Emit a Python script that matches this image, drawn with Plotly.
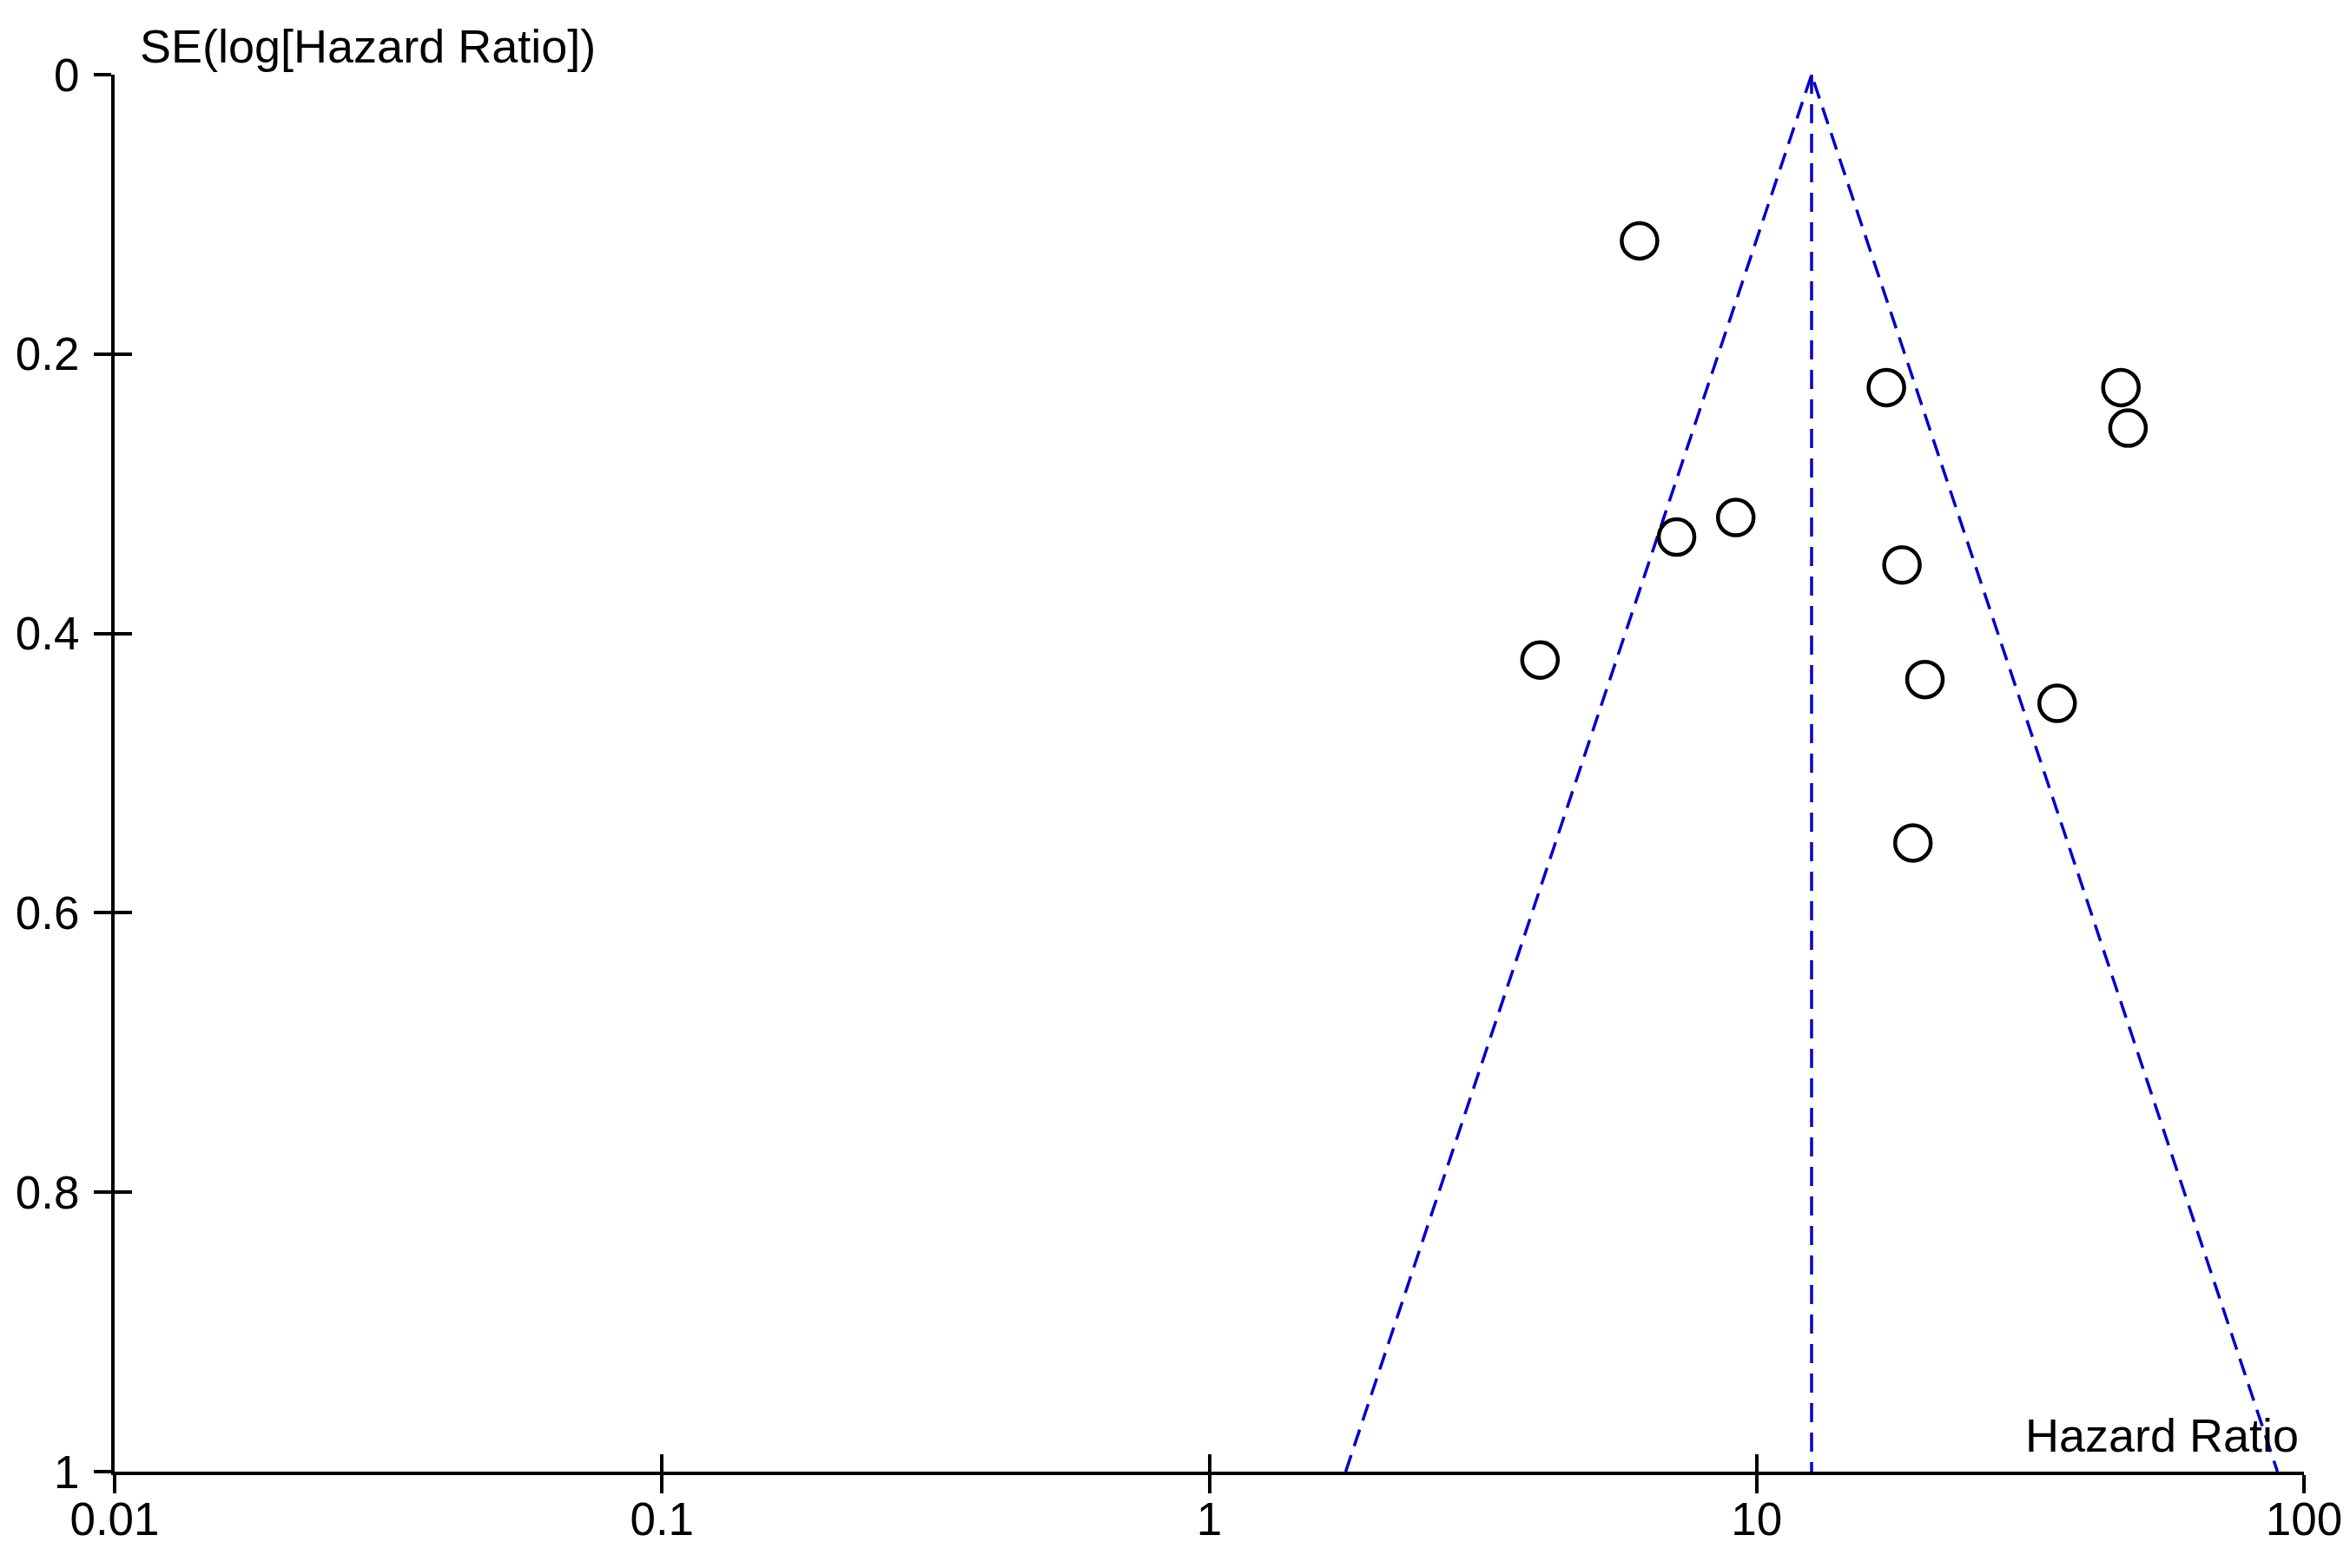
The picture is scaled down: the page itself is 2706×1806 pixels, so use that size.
import numpy as np
import plotly.graph_objects as go

# ---- data ----
hazard_ratio = [6.11, 17.26, 46.3, 47.7, 9.16, 7.14, 18.43, 4.02, 20.3, 35.4, 19.3]
se_log_hr = [0.119, 0.224, 0.224, 0.253, 0.317, 0.331, 0.351, 0.419, 0.433, 0.450, 0.550]
pooled_hr = 12.6
z_value = 1.96
se_max = 1.0

x_tickvals = [0.01, 0.1, 1, 10, 100]
x_ticktext = ["0.01", "0.1", "1", "10", "100"]
y_tickvals = [0, 0.2, 0.4, 0.6, 0.8, 1]
y_ticktext = ["0", "0.2", "0.4", "0.6", "0.8", "1"]

FONT = "Liberation Sans, Arial, sans-serif"
BLUE = "#0000CC"

funnel_x = [pooled_hr * np.exp(-z_value * se_max), pooled_hr, pooled_hr * np.exp(z_value * se_max)]
funnel_y = [se_max, 0, se_max]

fig = go.Figure()
fig.add_trace(go.Scatter(x=funnel_x, y=funnel_y, mode="lines",
                         line=dict(color=BLUE, width=3.5, dash="20px,11px"),
                         hoverinfo="skip", showlegend=False, cliponaxis=False))
fig.add_trace(go.Scatter(x=[pooled_hr, pooled_hr], y=[0, se_max], mode="lines",
                         line=dict(color=BLUE, width=3.5, dash="22px,12px"),
                         hoverinfo="skip", showlegend=False, cliponaxis=False))
fig.add_trace(go.Scatter(x=hazard_ratio, y=se_log_hr, mode="markers",
                         marker=dict(symbol="circle-open", size=41, color="black",
                                     line=dict(width=4.5, color="black")),
                         showlegend=False, cliponaxis=False))
# invisible trace for the overlay axes (ticks crossing the axis line)
fig.add_trace(go.Scatter(x=[1], y=[0.5], xaxis="x2", yaxis="y2", mode="markers",
                         marker=dict(opacity=0), hoverinfo="skip", showlegend=False))

common_font = dict(family=FONT, size=53, color="black")

fig.update_layout(
    width=2706, height=1806,
    paper_bgcolor="white", plot_bgcolor="white",
    margin=dict(l=124, r=61, t=78, b=119, autoexpand=False),
    font=common_font,
    xaxis=dict(type="log", range=[-2, 2], tickvals=x_tickvals, ticktext=x_ticktext,
               showgrid=False, zeroline=False, showline=True, linecolor="black", linewidth=4,
               ticks="outside", ticklen=21, tickwidth=3.5, tickcolor="black",
               tickfont=common_font, anchor="y", automargin=False, ticklabelstandoff=-16),
    yaxis=dict(range=[1, 0], tickvals=y_tickvals, ticktext=y_ticktext,
               showgrid=False, zeroline=False, showline=True, linecolor="black", linewidth=4,
               ticks="outside", ticklen=20, tickwidth=3.5, tickcolor="black",
               tickfont=common_font, anchor="x", ticklabelstandoff=6, automargin=False),
    xaxis2=dict(type="log", range=[-2, 2], tickvals=x_tickvals, overlaying="x", anchor="y",
                side="bottom", showgrid=False, zeroline=False, showline=False,
                ticks="inside", ticklen=20, tickwidth=3.5, tickcolor="black",
                showticklabels=False, automargin=False),
    yaxis2=dict(range=[1, 0], tickvals=y_tickvals, overlaying="y", anchor="x", side="left",
                showgrid=False, zeroline=False, showline=False,
                ticks="inside", ticklen=20, tickwidth=3.5, tickcolor="black",
                showticklabels=False, automargin=False),
    annotations=[
        dict(text="SE(log[Hazard Ratio])", xref="paper", yref="paper", x=0, y=1,
             xanchor="left", yanchor="middle", xshift=27, yshift=33, showarrow=False,
             font=dict(family=FONT, size=54, color="black")),
        dict(text="Hazard Ratio", xref="paper", yref="paper", x=1, y=0,
             xanchor="right", yanchor="middle", xshift=-4, yshift=42, showarrow=False,
             font=dict(family=FONT, size=54, color="black")),
    ],
)

fig.write_html("out.html")
